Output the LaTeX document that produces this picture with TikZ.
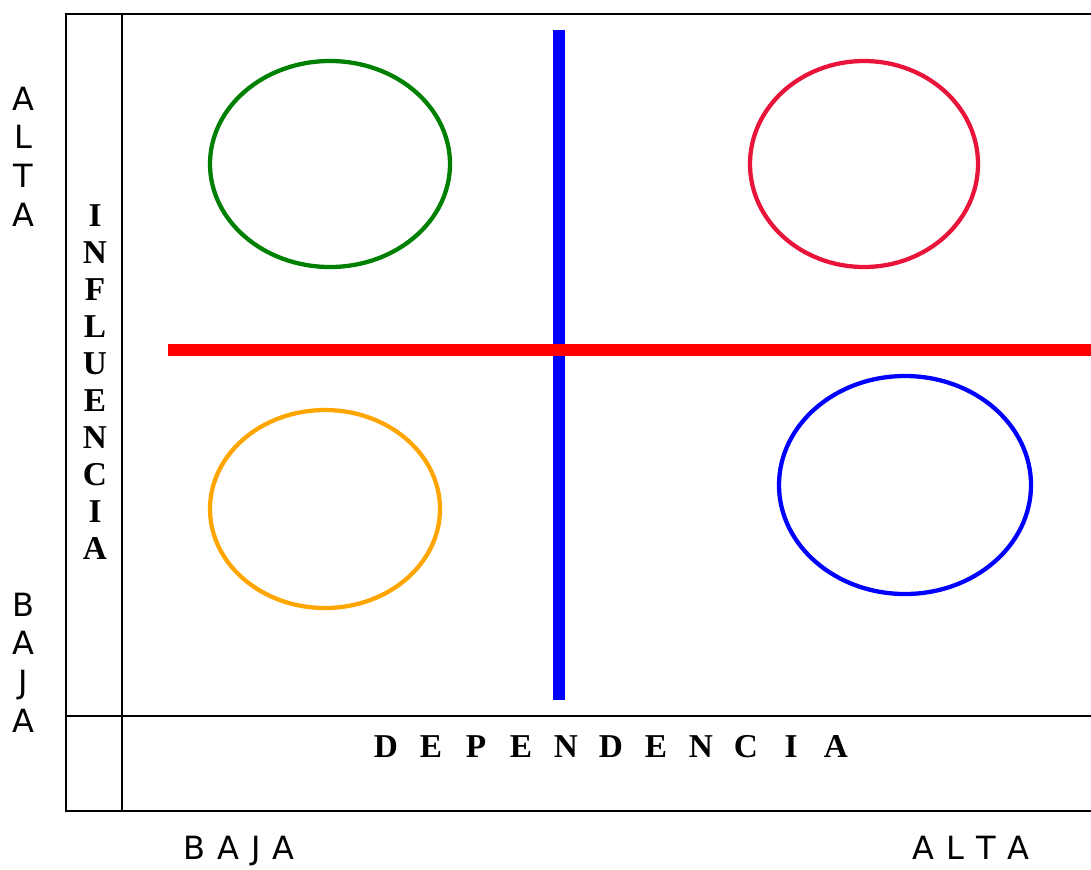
\documentclass[tikz,border=0pt]{standalone}
\usepackage{fontspec}
\newfontfamily\sansdv{DejaVu Sans}
\newfontfamily\serifb{Liberation Serif}
\definecolor{cgreen}{RGB}{0,128,0}
\definecolor{corange}{RGB}{255,165,0}
\definecolor{ccrimson}{RGB}{232,20,58}
\definecolor{cblue}{RGB}{0,0,255}
\definecolor{cred}{RGB}{255,0,0}
\begin{document}
\begin{tikzpicture}[x=0.75pt,y=-0.75pt,
  frame/.style={draw=black,line width=1.6pt},
  oval/.style={line width=3.2pt},
  axislbl/.style={font=\sansdv\fontsize{24}{28}\selectfont,inner sep=0pt},
  titlelbl/.style={font=\serifb\bfseries\fontsize{25}{28}\selectfont,inner sep=0pt}]
\useasboundingbox (0,0) rectangle (1091,869);
% frame
\draw[frame] (1091,14) -- (66,14) -- (66,811) -- (1091,811);
\draw[frame] (122,14) -- (122,811);
\draw[frame] (66,716) -- (1091,716);
% ellipses
\draw[oval,cgreen] (330,164) ellipse [x radius=120,y radius=103];
\draw[oval,ccrimson] (864,164) ellipse [x radius=114,y radius=103];
\draw[oval,corange] (325,509) ellipse [x radius=115,y radius=99];
\draw[oval,cblue] (905,485) ellipse [x radius=126,y radius=109];
% axes
\coordinate (vt) at (559,30);
\coordinate (vb) at (559,700);
\coordinate (hl) at (168,350);
\coordinate (hr) at (1091,350);
\draw[cblue,line width=8.5pt] (vt) -- (vb);
\draw[cred,line width=8.5pt] (hl) -- (hr);
% INFLUENCIA
\foreach \l [count=\i from 0] in {I,N,F,L,U,E,N,C,I,A}
  \node[titlelbl] (inf\i) at (95,{216+36.9*\i}) {\l};
% DEPENDENCIA
\foreach \l [count=\i from 0] in {D,E,P,E,N,D,E,N,C,I,A}
  \node[titlelbl,anchor=base] (dep\i) at ({386+45*\i},757) {\l};
% ALTA / BAJA left
\foreach \l [count=\i from 0] in {A,L,T,A}
  \node[axislbl,anchor=base] (lalta\i) at (23,{110+38.7*\i}) {\l};
\foreach \l [count=\i from 0] in {B,A,J,A}
  \node[axislbl,anchor=base] (lbaja\i) at (23,{616+38.7*\i}) {\l};
% bottom
\node[axislbl,anchor=base] (bbaja) at (239,859) {B\hspace{9pt}A\hspace{9pt}J\hspace{9pt}A};
\node[axislbl,anchor=base] (balta) at (971,859) {A\hspace{9pt}L\hspace{9pt}T\hspace{9pt}A};
\end{tikzpicture}
\end{document}
